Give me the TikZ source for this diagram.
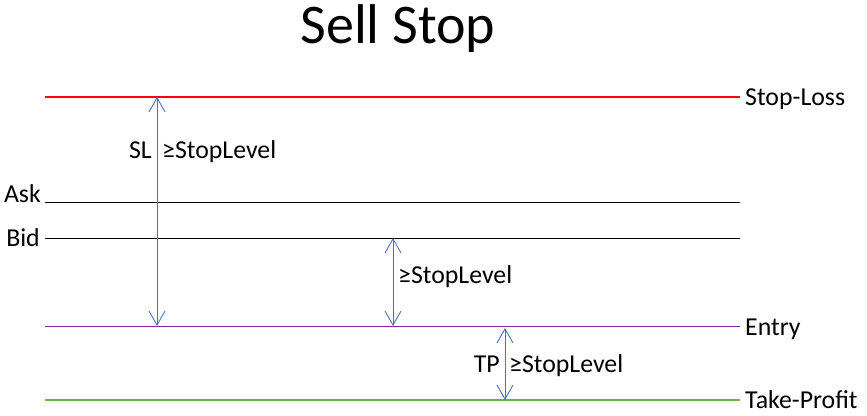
\documentclass[tikz,border=0pt]{standalone}
\usepackage{fontspec}
\setmainfont{Carlito}
\usetikzlibrary{arrows.meta}
\definecolor{slred}{HTML}{FF0000}
\definecolor{entrypurple}{HTML}{7030A0}
\definecolor{tpgreen}{HTML}{70AD47}
\definecolor{dimblue}{HTML}{4472C4}
\begin{document}
\begin{tikzpicture}[x=1pt,y=-1pt,
        level/.style={line width=0.9pt},
        dim/.style={dimblue, line width=0.9pt, {Straight Barb[length=14pt,width=16pt]}-{Straight Barb[length=14pt,width=16pt]}},
        lbl/.style={font=\fontsize{25.8}{30}\selectfont, inner sep=0pt}]
    \useasboundingbox (0,0) rectangle (867,415);
    \node[font=\fontsize{56}{62}\selectfont, inner sep=0pt, anchor=base] (title) at (398,43) {Sell Stop};

    % price levels
    \coordinate (slL)    at (45,97);   \coordinate (slR)    at (740,97);
    \coordinate (askL)   at (45,202);  \coordinate (askR)   at (740,202);
    \coordinate (bidL)   at (45,238);  \coordinate (bidR)   at (740,238);
    \coordinate (entryL) at (45,326);  \coordinate (entryR) at (740,326);
    \coordinate (tpL)    at (45,400);  \coordinate (tpR)    at (740,400);

    \draw[level, slred, line width=2pt]   (slL) -- (slR);
    \draw[level]                          (askL) -- (askR);
    \draw[level]                          (bidL) -- (bidR);
    \draw[level, entrypurple]             (entryL) -- (entryR);
    \draw[level, tpgreen, line width=2pt] (tpL) -- (tpR);

    \node[lbl, anchor=base west] (slname)    at (745,105) {Stop-Loss};
    \node[lbl, anchor=base west] (entryname) at (745,335) {Entry};
    \node[lbl, anchor=base west] (tpname)    at (745,408) {Take-Profit};
    \node[lbl, anchor=base east] (askname)   at (41,202)  {Ask};
    \node[lbl, anchor=base east] (bidname)   at (40,246)  {Bid};

    % distances
    \coordinate (d1top) at (157,97);  \coordinate (d1bot) at (157,326);
    \coordinate (d2top) at (393,238); \coordinate (d2bot) at (393,326);
    \coordinate (d3top) at (505,328); \coordinate (d3bot) at (505,400);

    \draw[dim] (d1top) -- (d1bot);
    \draw[dim] (d2top) -- (d2bot);
    \draw[dim] (d3top) -- (d3bot);

    \node[lbl, anchor=base east] (slgap)  at (152,158) {SL};
    \node[lbl, anchor=base west] (sllvl)  at (162,158) {≥StopLevel};
    \node[lbl, anchor=base west] (entlvl) at (398,283) {≥StopLevel};
    \node[lbl, anchor=base east] (tpgap)  at (500,372) {TP};
    \node[lbl, anchor=base west] (tplvl)  at (509,372) {≥StopLevel};
\end{tikzpicture}
\end{document}
